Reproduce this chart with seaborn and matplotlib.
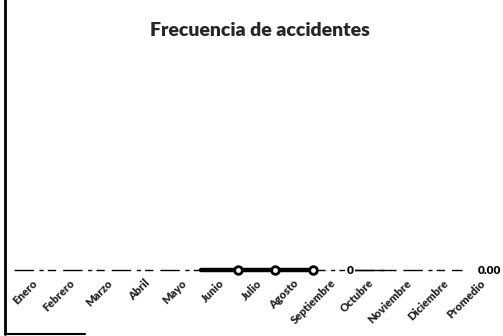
import matplotlib
matplotlib.use("Agg")
import matplotlib.pyplot as plt
import matplotlib.transforms as mtransforms
from matplotlib.lines import Line2D
import seaborn as sns
import pandas as pd

# Monthly accident frequency (all months recorded zero) plus the yearly average
meses = ["Enero", "Febrero", "Marzo", "Abril", "Mayo", "Junio", "Julio",
         "Agosto", "Septiembre", "Octubre", "Noviembre", "Diciembre", "Promedio"]
frecuencia = [0, 0, 0, 0, 0, 0, 0, 0, 0, 0, 0, 0, 0]
promedio_etiqueta = "0.00"
etiqueta_octubre = "0"
meses_marcados = ["Julio", "Agosto", "Septiembre"]
tramo_grueso = ["Junio", "Julio", "Agosto", "Septiembre"]
tramo_continuo = ["Octubre", "Noviembre"]

df = pd.DataFrame({"mes": meses, "valor": frecuencia})
df["pos"] = range(len(meses))

sns.set_theme(style="white")
plt.rcParams["font.family"] = ["Lato", "DejaVu Sans"]

fig = plt.figure(figsize=(5.03, 3.36), dpi=100)
ax = fig.add_axes([0, 0.1, 1, 0.9])
ax.set_facecolor("none")

# thin broken line across the full year
sns.lineplot(data=df, x="pos", y="valor", ax=ax, color="black", lw=1.0,
             clip_on=False)
ax.lines[-1].set_dashes((14, 4, 3, 3, 6, 5))
# solid stretch after the labelled point
sub_c = df[df["mes"].isin(tramo_continuo)]
sns.lineplot(data=sub_c, x="pos", y="valor", ax=ax, color="black", lw=1.0,
             clip_on=False)
# heavier stretch through the summer months
sub = df[df["mes"].isin(tramo_grueso)]
sns.lineplot(data=sub, x="pos", y="valor", ax=ax, color="black", lw=3.2,
             clip_on=False)
# circle markers on the marked months
mk = df[df["mes"].isin(meses_marcados)]
ax.plot(mk["pos"], mk["valor"], ls="none", marker="o", ms=5.5,
        mfc="white", mec="black", mew=2.0, clip_on=False, zorder=5)

# value labels
oct_row = df[df["mes"] == "Octubre"].iloc[0]
ax.text(oct_row["pos"], oct_row["valor"], etiqueta_octubre, ha="center",
        va="center", fontsize=8.5, fontweight="heavy", color="black", zorder=6,
        bbox=dict(boxstyle="square,pad=0.15", fc="white", ec="none"))
prom_row = df[df["mes"] == "Promedio"].iloc[0]
off = mtransforms.offset_copy(ax.transData, fig=fig, x=16, y=0, units="dots")
ax.text(prom_row["pos"], prom_row["valor"], promedio_etiqueta, ha="left",
        va="center", fontsize=8.5, fontweight="heavy", color="black",
        transform=off, zorder=6,
        bbox=dict(boxstyle="square,pad=0.1", fc="white", ec="none"))

# axis scaling: categories spaced evenly across the width
ax.set_xlim(-0.375, 13.1)
ax.set_ylim(-0.12, 1)
ax.set_xlabel("")
ax.set_ylabel("")
ax.set_yticks([])
ax.set_xticks(df["pos"])
ax.set_xticklabels(meses, rotation=45, ha="right", va="top",
                   rotation_mode="anchor", fontsize=8, fontweight="heavy")
ax.tick_params(axis="x", length=0, pad=0)
shift = mtransforms.ScaledTranslation(18 / 100, 25 / 100, fig.dpi_scale_trans)
for lab in ax.get_xticklabels():
    lab.set_transform(lab.get_transform() + shift)
for s in ax.spines.values():
    s.set_visible(False)

fig.suptitle("Frecuencia de accidentes", x=0.517, y=0.935, fontsize=14,
             fontweight="heavy")

# chart frame: left edge and part of the bottom edge
fig.add_artist(Line2D([5 / 503, 5 / 503], [2 / 336, 1.0], color="black", lw=2.0))
fig.add_artist(Line2D([5 / 503, 85 / 503], [2 / 336, 2 / 336], color="black", lw=1.5))

fig.savefig("out.png", dpi=100, facecolor="white")
